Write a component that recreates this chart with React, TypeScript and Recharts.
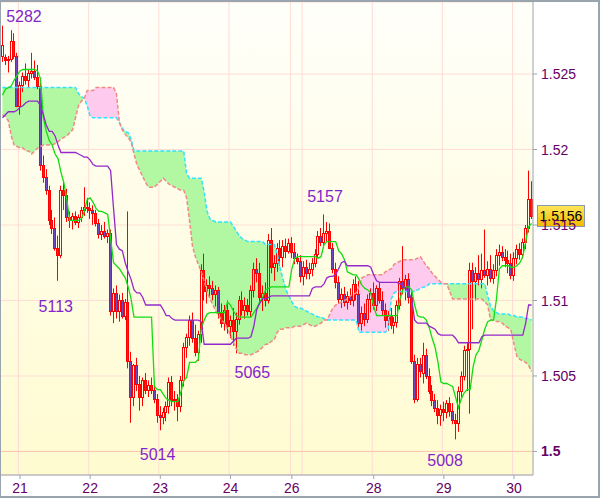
import React from "react";
import {
  ComposedChart,
  Bar,
  Line,
  Area,
  XAxis,
  YAxis,
  CartesianGrid,
  ReferenceLine,
  ReferenceDot,
} from "recharts";

const FONT = "'Liberation Sans', Arial, sans-serif";

// hourly bars, prices in pips (5262 = 1.5262): [open, high, low, close]
const candles: number[][] = [
  [5262, 5282, 5258, 5269], [5261, 5263, 5256, 5259], [5259, 5262, 5251, 5260], [5260, 5279, 5258, 5272], [5272, 5277, 5260, 5262],
  [5262, 5264, 5228, 5229], [5229, 5245, 5223, 5243], [5243, 5251, 5238, 5249], [5249, 5257, 5243, 5246], [5246, 5253, 5241, 5251],
  [5251, 5264, 5247, 5252], [5252, 5259, 5246, 5248], [5248, 5256, 5240, 5242], [5242, 5244, 5186, 5190], [5190, 5196, 5178, 5182],
  [5182, 5187, 5170, 5173], [5173, 5176, 5150, 5153], [5153, 5160, 5144, 5148], [5148, 5155, 5133, 5135], [5135, 5143, 5113, 5130],
  [5130, 5176, 5128, 5173], [5173, 5178, 5160, 5170], [5170, 5174, 5152, 5155], [5155, 5159, 5148, 5153], [5153, 5158, 5147, 5156],
  [5156, 5159, 5150, 5152], [5152, 5157, 5148, 5155], [5155, 5162, 5152, 5160], [5160, 5175, 5156, 5162], [5162, 5168, 5158, 5161],
  [5161, 5165, 5154, 5160], [5160, 5163, 5150, 5158], [5158, 5160, 5149, 5151], [5151, 5154, 5141, 5144], [5144, 5150, 5140, 5146],
  [5146, 5152, 5141, 5143], [5143, 5147, 5138, 5145], [5145, 5147, 5090, 5093], [5093, 5108, 5085, 5105], [5105, 5110, 5088, 5093],
  [5093, 5104, 5086, 5100], [5100, 5105, 5088, 5090], [5090, 5101, 5087, 5099], [5099, 5159, 5055, 5060], [5060, 5066, 5019, 5036],
  [5036, 5058, 5030, 5057], [5057, 5062, 5040, 5045], [5045, 5050, 5027, 5036], [5036, 5049, 5030, 5047], [5047, 5052, 5038, 5041],
  [5041, 5047, 5036, 5044], [5044, 5049, 5038, 5041], [5041, 5046, 5032, 5035], [5035, 5038, 5019, 5024], [5024, 5030, 5014, 5023],
  [5023, 5029, 5018, 5026], [5026, 5033, 5020, 5030], [5030, 5049, 5025, 5046], [5046, 5050, 5030, 5034], [5034, 5040, 5027, 5035],
  [5035, 5038, 5020, 5030], [5030, 5050, 5026, 5047], [5047, 5072, 5043, 5069], [5069, 5078, 5062, 5076], [5076, 5090, 5070, 5087],
  [5087, 5092, 5072, 5075], [5075, 5084, 5063, 5066], [5066, 5080, 5060, 5078], [5078, 5124, 5072, 5120], [5120, 5131, 5100, 5106],
  [5106, 5114, 5098, 5110], [5110, 5116, 5102, 5108], [5108, 5113, 5100, 5104], [5104, 5110, 5096, 5107], [5107, 5109, 5088, 5092],
  [5092, 5098, 5082, 5085], [5085, 5097, 5080, 5094], [5094, 5100, 5078, 5083], [5083, 5090, 5075, 5087], [5087, 5095, 5070, 5080],
  [5080, 5092, 5065, 5088], [5088, 5103, 5084, 5100], [5100, 5106, 5090, 5094], [5094, 5102, 5088, 5097], [5097, 5101, 5090, 5093],
  [5093, 5110, 5089, 5107], [5107, 5125, 5102, 5121], [5121, 5128, 5112, 5118], [5118, 5125, 5098, 5102], [5102, 5110, 5093, 5105],
  [5105, 5112, 5096, 5100], [5100, 5144, 5098, 5140], [5140, 5148, 5118, 5122], [5122, 5130, 5113, 5125], [5125, 5138, 5119, 5135],
  [5135, 5140, 5123, 5129], [5129, 5140, 5122, 5136], [5136, 5141, 5128, 5133], [5133, 5141, 5131, 5138], [5138, 5142, 5128, 5132],
  [5132, 5138, 5124, 5128], [5128, 5131, 5124, 5126], [5126, 5130, 5112, 5116], [5116, 5126, 5110, 5122], [5122, 5127, 5114, 5118],
  [5118, 5125, 5114, 5121], [5121, 5128, 5116, 5125], [5125, 5134, 5122, 5131], [5131, 5146, 5128, 5143], [5143, 5148, 5136, 5139],
  [5139, 5157, 5136, 5145], [5145, 5152, 5139, 5146], [5146, 5151, 5134, 5135], [5135, 5138, 5118, 5121], [5121, 5125, 5108, 5112],
  [5112, 5116, 5098, 5101], [5101, 5108, 5095, 5104], [5104, 5109, 5096, 5099], [5099, 5106, 5094, 5103], [5103, 5108, 5097, 5100],
  [5100, 5114, 5096, 5111], [5111, 5116, 5100, 5104], [5104, 5113, 5082, 5085], [5085, 5096, 5080, 5092], [5092, 5098, 5083, 5088],
  [5088, 5104, 5085, 5101], [5101, 5108, 5092, 5105], [5105, 5112, 5094, 5097], [5097, 5110, 5093, 5108], [5108, 5112, 5098, 5100],
  [5100, 5106, 5090, 5094], [5094, 5098, 5082, 5087], [5087, 5093, 5080, 5090], [5090, 5095, 5081, 5084], [5084, 5089, 5078, 5086],
  [5086, 5100, 5082, 5097], [5097, 5115, 5094, 5113], [5113, 5136, 5104, 5108], [5108, 5117, 5100, 5114], [5114, 5118, 5098, 5102],
  [5102, 5106, 5058, 5060], [5060, 5064, 5032, 5035], [5035, 5062, 5033, 5058], [5058, 5062, 5049, 5053], [5052, 5072, 5045, 5064],
  [5064, 5068, 5048, 5050], [5050, 5055, 5038, 5040], [5040, 5044, 5030, 5034], [5034, 5038, 5026, 5029], [5029, 5034, 5018, 5024],
  [5024, 5031, 5017, 5028], [5028, 5033, 5020, 5026], [5026, 5034, 5022, 5032], [5032, 5036, 5023, 5027], [5027, 5032, 5018, 5021],
  [5021, 5025, 5008, 5019], [5019, 5043, 5013, 5040], [5040, 5053, 5036, 5050], [5050, 5070, 5047, 5067], [5067, 5072, 5040, 5068],
  [5068, 5125, 5025, 5120], [5120, 5125, 5081, 5113], [5113, 5122, 5100, 5118], [5118, 5130, 5110, 5114], [5114, 5131, 5108, 5120],
  [5120, 5147, 5115, 5117], [5117, 5126, 5110, 5121], [5121, 5130, 5112, 5115], [5115, 5124, 5111, 5120], [5120, 5134, 5116, 5130],
  [5130, 5137, 5123, 5132], [5132, 5136, 5126, 5129], [5129, 5134, 5122, 5127], [5127, 5133, 5118, 5125], [5125, 5131, 5114, 5117],
  [5117, 5132, 5113, 5128], [5128, 5137, 5124, 5134], [5134, 5138, 5127, 5131], [5131, 5141, 5128, 5139], [5139, 5150, 5134, 5148],
  [5148, 5186, 5145, 5167], [5167, 5179, 5154, 5156],
];

// Tenkan-sen (green)
const tenkan = [
  5236, 5240, 5241, 5242, 5246, 5249, 5252, 5253, 5253, 5253,
  5253, 5253, 5252, 5247, 5221, 5212, 5206, 5203, 5197, 5194,
  5185, 5178, 5167, 5153, 5153, 5153, 5153, 5154, 5159, 5167,
  5168, 5165, 5161, 5159, 5159, 5158, 5157, 5141, 5125, 5123,
  5121, 5118, 5115, 5109, 5101, 5089, 5089, 5089, 5089, 5089,
  5089, 5089, 5043, 5041, 5041, 5038, 5035, 5034, 5033, 5033,
  5033, 5039, 5047, 5049, 5059, 5059, 5059, 5061, 5081, 5087,
  5091, 5092, 5092, 5092, 5092, 5092, 5092, 5099, 5097, 5093,
  5090, 5089, 5089, 5089, 5089, 5089, 5092, 5095, 5099, 5102,
  5107, 5108, 5109, 5109, 5109, 5109, 5109, 5109, 5109, 5121,
  5128, 5129, 5129, 5129, 5129, 5129, 5129, 5129, 5128, 5129,
  5137, 5139, 5139, 5139, 5139, 5133, 5131, 5127, 5119, 5118,
  5117, 5117, 5114, 5110, 5108, 5107, 5105, 5096, 5090, 5090,
  5090, 5090, 5090, 5090, 5090, 5090, 5101, 5107, 5109, 5109,
  5107, 5097, 5090, 5089, 5089, 5087, 5082, 5075, 5069, 5059,
  5046, 5045, 5045, 5044, 5043, 5036, 5029, 5035, 5039, 5041,
  5041, 5056, 5064, 5067, 5074, 5081, 5086, 5087, 5087, 5101,
  5121, 5123, 5123, 5123, 5122, 5122, 5123, 5125, 5129, 5139,
  5149, 5151,
];

// Kijun-sen (purple)
const kijun = [
  5221, 5223, 5225, 5225, 5225, 5226, 5228, 5229, 5231, 5232,
  5232, 5232, 5232, 5229, 5223, 5216, 5212, 5212, 5209, 5203,
  5198, 5198, 5198, 5198, 5198, 5198, 5197, 5196, 5195, 5195,
  5193, 5190, 5189, 5189, 5189, 5189, 5189, 5186, 5161, 5137,
  5134, 5133, 5125, 5119, 5114, 5107, 5105, 5105, 5102, 5097,
  5097, 5097, 5097, 5097, 5097, 5094, 5090, 5090, 5088, 5087,
  5087, 5087, 5087, 5087, 5087, 5087, 5087, 5087, 5086, 5071,
  5071, 5071, 5071, 5071, 5071, 5071, 5071, 5071, 5071, 5073,
  5075, 5075, 5075, 5075, 5075, 5076, 5083, 5094, 5098, 5101,
  5101, 5102, 5103, 5103, 5103, 5103, 5103, 5103, 5103, 5103,
  5103, 5103, 5103, 5103, 5103, 5103, 5108, 5109, 5109, 5109,
  5111, 5115, 5116, 5116, 5117, 5121, 5125, 5126, 5123, 5123,
  5123, 5123, 5123, 5123, 5123, 5123, 5122, 5117, 5113, 5112,
  5112, 5112, 5112, 5112, 5112, 5112, 5111, 5110, 5108, 5105,
  5101, 5087, 5085, 5085, 5085, 5085, 5083, 5082, 5081, 5078,
  5077, 5077, 5077, 5077, 5077, 5075, 5072, 5072, 5072, 5072,
  5072, 5072, 5072, 5072, 5076, 5077, 5077, 5077, 5077, 5077,
  5077, 5077, 5077, 5077, 5077, 5077, 5077, 5077, 5077, 5085,
  5097, 5097,
];

// Senkou span A (cyan dashed)
const senkouA = [
  5241, 5241, 5241, 5241, 5241, 5241, 5241, 5241, 5241, 5241,
  5241, 5241, 5241, 5241, 5241, 5241, 5241, 5241, 5241, 5241,
  5241, 5241, 5241, 5241, 5241, 5241, 5237, 5235, 5234, 5229,
  5222, 5221, 5221, 5221, 5221, 5221, 5221, 5221, 5221, 5221,
  5218, 5214, 5212, 5211, 5207, 5199, 5199, 5199, 5199, 5199,
  5199, 5199, 5199, 5199, 5199, 5199, 5199, 5199, 5199, 5199,
  5199, 5199, 5199, 5184, 5181, 5181, 5181, 5181, 5181, 5172,
  5159, 5154, 5153, 5152, 5152, 5152, 5152, 5152, 5152, 5149,
  5146, 5143, 5141, 5140, 5139, 5139, 5139, 5139, 5139, 5139,
  5137, 5137, 5137, 5137, 5131, 5121, 5114, 5107, 5103, 5099,
  5096, 5095, 5095, 5094, 5093, 5092, 5091, 5090, 5089, 5089,
  5088, 5087, 5087, 5087, 5087, 5087, 5087, 5087, 5087, 5087,
  5087, 5087, 5079, 5079, 5079, 5079, 5079, 5079, 5079, 5079,
  5079, 5079, 5081, 5101, 5105, 5106, 5106, 5106, 5106, 5106,
  5106, 5106, 5107, 5108, 5109, 5109, 5111, 5111, 5111, 5111,
  5111, 5111, 5111, 5111, 5111, 5111, 5111, 5111, 5111, 5111,
  5111, 5111, 5111, 5111, 5111, 5111, 5103, 5096, 5093, 5092,
  5091, 5091, 5091, 5091, 5090, 5090, 5089, 5089, 5089, 5088,
  5088, 5087,
];

// Senkou span B (salmon dashed)
const senkouB = [
  5223, 5222, 5219, 5209, 5203, 5202, 5201, 5201, 5199, 5199,
  5197, 5199, 5201, 5202, 5203, 5203, 5203, 5203, 5204, 5205,
  5207, 5208, 5209, 5211, 5213, 5221, 5229, 5232, 5234, 5239,
  5239, 5239, 5241, 5241, 5241, 5241, 5241, 5241, 5241, 5237,
  5218, 5213, 5210, 5208, 5205, 5197, 5190, 5186, 5182, 5178,
  5175, 5175, 5175, 5177, 5179, 5181, 5179, 5177, 5176, 5175,
  5174, 5173, 5173, 5168, 5153, 5136, 5129, 5124, 5119, 5113,
  5106, 5101, 5097, 5093, 5090, 5087, 5085, 5081, 5077, 5072,
  5068, 5065, 5065, 5064, 5064, 5064, 5065, 5066, 5067, 5069,
  5071, 5071, 5073, 5074, 5079, 5081, 5081, 5082, 5082, 5082,
  5083, 5083, 5083, 5084, 5085, 5084, 5083, 5083, 5084, 5085,
  5087, 5087, 5091, 5095, 5097, 5098, 5099, 5100, 5101, 5103,
  5104, 5105, 5109, 5115, 5116, 5117, 5117, 5117, 5117, 5117,
  5117, 5119, 5120, 5121, 5124, 5125, 5126, 5127, 5127, 5127,
  5127, 5127, 5128, 5129, 5126, 5123, 5121, 5118, 5116, 5114,
  5112, 5111, 5111, 5106, 5101, 5101, 5101, 5101, 5101, 5101,
  5101, 5101, 5101, 5101, 5101, 5099, 5097, 5087, 5087, 5086,
  5086, 5085, 5083, 5082, 5080, 5071, 5063, 5061, 5060, 5059,
  5057, 5053,
];

// day boundaries (bar index) and their labels
const dayTickIdx = [6, 30, 54, 78, 99, 127, 151, 175];
const dayTickLabels = ["21", "22", "23", "24", "26", "28", "29", "30"];
const dayGridIdx = [6, 30, 54, 78, 99, 103, 127, 151, 175];

const priceTicks = [1.5, 1.505, 1.51, 1.515, 1.52, 1.525];
const priceTickLabels = ["1.5", "1.505", "1.51", "1.515", "1.52", "1.525"];
const priceMin = 1.49844;
const priceMax = 1.52977;
const lastPrice = 1.5156;

// swing highs / lows marked on the chart
const extremes = [
  { i: 0, pip: 5282 },
  { i: 19, pip: 5113 },
  { i: 54, pip: 5014 },
  { i: 80, pip: 5065 },
  { i: 110, pip: 5157 },
  { i: 155, pip: 5008 },
];
const extremeShift = [
  [21.5, -4],
  [-2.2, 31],
  [-2.7, 30],
  [16, 25],
  [1, -12.5],
  [-10.5, 27],
];

const toPrice = (p: number) => 1 + p / 10000;

const rows = candles.map(([o, h, l, c], i) => {
  const a = toPrice(senkouA[i]);
  const b = toPrice(senkouB[i]);
  const top = Math.max(a, b);
  return {
    i,
    o: toPrice(o),
    hi: toPrice(h),
    lo: toPrice(l),
    c: toPrice(c),
    range: [toPrice(l), toPrice(h)],
    tenkan: toPrice(tenkan[i]),
    kijun: toPrice(kijun[i]),
    a,
    b,
    upCloud: [b, top],
    downCloud: [a, top],
  };
});

function Candle(props: any) {
  const { x, y, width, height, payload } = props;
  if (x == null || y == null || !payload) return null;
  const top = Math.min(y, y + height);
  const h = Math.abs(height);
  const { o, hi, lo, c } = payload;
  const span = hi - lo || 1;
  const toY = (v: number) => top + ((hi - v) / span) * h;
  const cx = Math.floor(x + width / 2) + 0.5;
  const bodyTop = Math.round(Math.min(toY(o), toY(c))) + 0.5;
  let bodyBot = Math.round(Math.max(toY(o), toY(c))) + 0.5;
  if (bodyBot - bodyTop < 1) bodyBot = bodyTop + 1;
  const bear = c < o;
  return (
    <g>
      <line x1={cx} x2={cx} y1={top} y2={bodyTop} stroke="#ff0000" strokeWidth={1} />
      <line x1={cx} x2={cx} y1={bodyBot} y2={top + h} stroke="#ff0000" strokeWidth={1} />
      <rect
        x={cx - 1}
        y={bodyTop}
        width={2}
        height={bodyBot - bodyTop}
        fill={bear ? "#7048c0" : "none"}
        stroke="#ff0000"
        strokeWidth={1}
      />
    </g>
  );
}

function PriceTick(props: any) {
  const { x, y, payload } = props;
  const idx = priceTicks.indexOf(payload.value);
  const label = idx >= 0 ? priceTickLabels[idx] : String(payload.value);
  return (
    <text
      x={x}
      y={y}
      dy="0.36em"
      textAnchor="start"
      fontSize={14}
      fontFamily={FONT}
      fill="#660066"
      fontWeight={payload.value === 1.5 ? "bold" : "normal"}
    >
      {label}
    </text>
  );
}

function PriceTag(props: any) {
  const vb = props.viewBox;
  if (!vb) return null;
  const x = vb.x + vb.width;
  const y = vb.y;
  return (
    <g>
      <rect
        x={x + 4.5}
        y={Math.round(y) - 10.5}
        width={47}
        height={21}
        fill="url(#tagFill)"
        stroke="#8a9aaa"
        strokeWidth={1}
      />
      <text
        x={x + 28}
        y={y}
        dy="0.36em"
        textAnchor="middle"
        fontSize={14}
        fontFamily={FONT}
        fill="#000000"
      >
        {lastPrice.toFixed(4)}
      </text>
    </g>
  );
}

function extremeLabel(text: string, dx: number, dy: number) {
  return (p: any) => {
    const vb = p.viewBox;
    if (!vb) return null;
    const cx = vb.x + (vb.width || 0) / 2;
    const cy = vb.y + (vb.height || 0) / 2;
    return (
      <text
        x={cx + dx}
        y={cy + dy}
        textAnchor="middle"
        fontSize={16}
        fontFamily={FONT}
        fill="#8424cc"
      >
        {text}
      </text>
    );
  };
}

export default function App() {
  return (
    <div
      style={{
        position: "absolute",
        left: 0,
        top: 0,
        width: 600,
        height: 498,
        background: "#ffffff",
      }}
    >
      <ComposedChart
        width={600}
        height={498}
        data={rows}
        margin={{ top: 2, right: 0, bottom: 0, left: 1 }}
      >
        <defs>
          <linearGradient id="plotBg" x1="0" y1="0" x2="0" y2="1">
            <stop offset="0%" stopColor="#fffffa" />
            <stop offset="100%" stopColor="#fffbd0" />
          </linearGradient>
          <linearGradient id="tagFill" x1="0" y1="0" x2="0" y2="1">
            <stop offset="0%" stopColor="#ffe85a" />
            <stop offset="100%" stopColor="#f2b800" />
          </linearGradient>
        </defs>
        <CartesianGrid
          fill="url(#plotBg)"
          stroke="#ffdcd4"
          verticalCoordinatesGenerator={(args: any) => {
            const xa = args && args.xAxis;
            if (xa && typeof xa.scale === "function") {
              return dayGridIdx.map((d) => xa.scale(d));
            }
            const off = args.offset;
            return dayGridIdx.map((d) => off.left + (d / rows.length) * off.width);
          }}
        />
        <XAxis
          dataKey="i"
          type="category"
          ticks={dayTickIdx}
          interval={0}
          tickFormatter={(v: any) => {
            const k = dayTickIdx.indexOf(Number(v));
            return k >= 0 ? dayTickLabels[k] : "";
          }}
          height={23}
          tickSize={4}
          tickMargin={4}
          axisLine={{ stroke: "#9aa4ae" }}
          tickLine={{ stroke: "#9aa4ae" }}
          tick={{ fill: "#660066", fontSize: 14, fontFamily: FONT }}
        />
        <YAxis
          orientation="right"
          type="number"
          domain={[priceMin, priceMax]}
          allowDataOverflow
          ticks={priceTicks}
          interval={0}
          width={67}
          tickSize={4}
          tickMargin={4}
          axisLine={{ stroke: "#9aa4ae" }}
          tickLine={{ stroke: "#9aa4ae" }}
          tick={<PriceTick />}
        />
        <ReferenceLine y={1.5} stroke="#fbc6b0" strokeWidth={1} />
        <Area
          dataKey="upCloud"
          type="linear"
          stroke="none"
          fill="#b2f7a2"
          fillOpacity={1}
          isAnimationActive={false}
        />
        <Area
          dataKey="downCloud"
          type="linear"
          stroke="none"
          fill="#fecbef"
          fillOpacity={1}
          isAnimationActive={false}
        />
        <Line
          dataKey="a"
          type="linear"
          stroke="#2ee4ff"
          strokeWidth={1.5}
          strokeDasharray="4 2"
          dot={false}
          isAnimationActive={false}
        />
        <Line
          dataKey="b"
          type="linear"
          stroke="#f08a84"
          strokeWidth={1.5}
          strokeDasharray="4 2"
          dot={false}
          isAnimationActive={false}
        />
        <Bar dataKey="range" shape={<Candle />} isAnimationActive={false} />
        <Line
          dataKey="tenkan"
          type="linear"
          stroke="#12dc12"
          strokeWidth={1.3}
          dot={false}
          isAnimationActive={false}
        />
        <Line
          dataKey="kijun"
          type="linear"
          stroke="#9428cc"
          strokeWidth={1.3}
          dot={false}
          isAnimationActive={false}
        />
        {extremes.map((e, k) => (
          <ReferenceDot
            key={e.pip}
            x={e.i}
            y={toPrice(e.pip)}
            r={0}
            fill="none"
            stroke="none"
            label={extremeLabel(String(e.pip), extremeShift[k][0], extremeShift[k][1])}
          />
        ))}
        <ReferenceLine y={lastPrice} stroke="none" label={(p: any) => <PriceTag {...p} />} />
      </ComposedChart>
      <div
        style={{
          position: "absolute",
          left: 0,
          top: 0,
          width: 600,
          height: 498,
          boxSizing: "border-box",
          borderStyle: "solid",
          borderColor: "#9aa4ae",
          borderWidth: "2px 2px 2px 1px",
          pointerEvents: "none",
        }}
      />
    </div>
  );
}
